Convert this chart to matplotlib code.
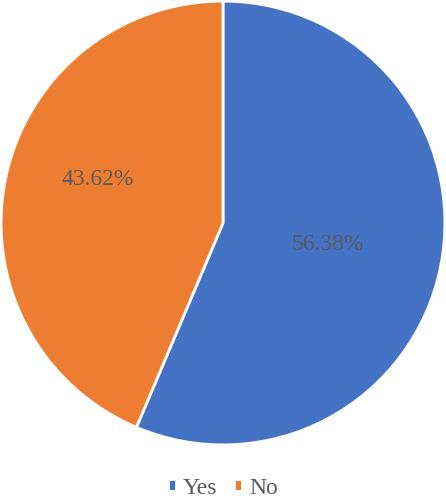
import matplotlib.pyplot as plt

labels = ["Yes", "No"]
values = [56.38, 43.62]
colors = ["#4472C4", "#ED7D31"]

plt.rcParams['font.family'] = ['Liberation Serif', 'DejaVu Serif']

fig = plt.figure(figsize=(4.46, 4.98), dpi=100)
ax = fig.add_axes([0.0, 1 - 446 / 498, 1.0, 446 / 498])

wedges, texts, autotexts = ax.pie(values, colors=colors, startangle=90, counterclock=False,
                                  autopct="%.2f%%", pctdistance=0.48,
                                  wedgeprops=dict(edgecolor="white", linewidth=2),
                                  textprops=dict(color="#595959", fontsize=17),
                                  radius=0.995)
# Excel puts the "No" label higher up
autotexts[1].set_position((-0.56, 0.197))
ax.set_xlim(-1, 1)
ax.set_ylim(-1, 1)
ax.set_aspect("equal")

leg = fig.legend(wedges, labels, loc="center", bbox_to_anchor=(0.5, 1 - 488 / 498),
                 ncol=2, frameon=False, fontsize=17, handlelength=0.35, handleheight=0.35,
                 handletextpad=0.3, columnspacing=0.7, labelcolor="#595959",
                 borderpad=0)

fig.savefig("out.png", dpi=100)
